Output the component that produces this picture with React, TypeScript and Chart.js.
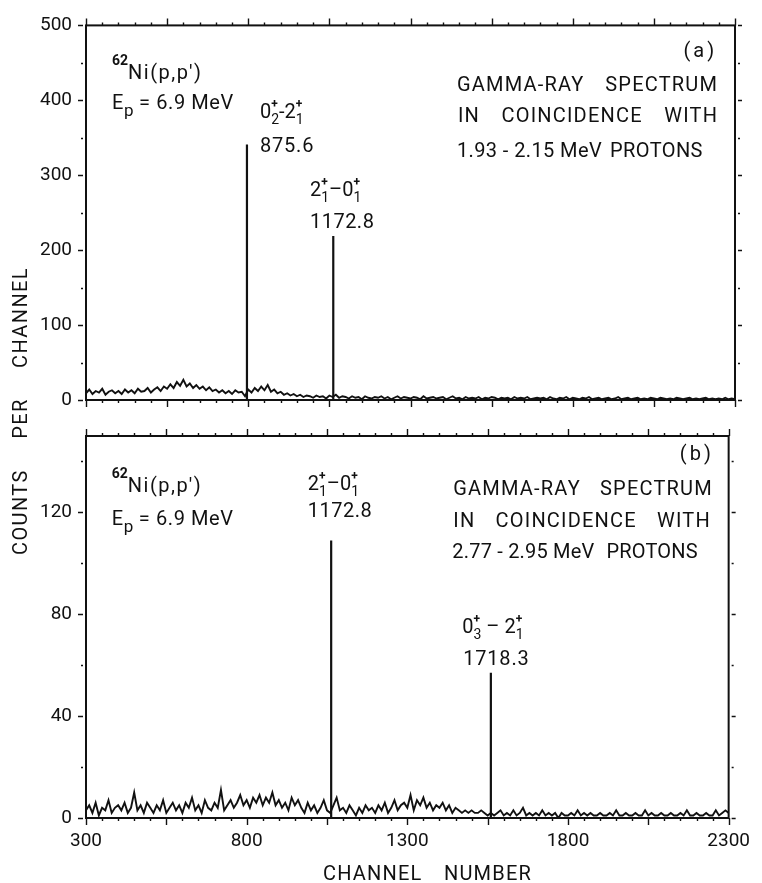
import React, { useEffect, useRef } from "react";
import { Chart, registerables } from "chart.js";

Chart.register(...registerables);

const FONT = "Roboto, 'Liberation Sans', sans-serif";
const INK = "#111";

// Both spectra are listed every 10th channel, starting at channel 300.
const FIRST_CHANNEL = 300;
const CHANNEL_STEP = 10;

// (a) gamma rays in coincidence with 1.93–2.15 MeV protons
const countsA = [
  9, 14, 8, 12, 10, 15, 7, 11, 13, 9, // 300
  12, 8, 14, 10, 13, 9, 15, 11, 12, 16, // 400
  10, 14, 17, 12, 18, 15, 21, 16, 24, 19, // 500
  27, 18, 22, 16, 20, 15, 18, 13, 17, 12, // 600
  14, 10, 13, 9, 12, 8, 13, 10, 11, 5, // 700
  14, 10, 16, 12, 18, 13, 20, 11, 14, 9, // 800
  11, 7, 9, 6, 8, 5, 7, 4, 6, 5, // 900
  3, 6, 4, 5, 2, 6, 4, 7, 3, 5, // 1000
  4, 2, 5, 3, 4, 1, 5, 3, 2, 4, // 1100
  3, 5, 2, 4, 1, 3, 5, 2, 4, 3, // 1200
  2, 4, 3, 1, 5, 2, 3, 4, 2, 3, // 1300
  4, 1, 3, 5, 2, 3, 1, 4, 2, 3, // 1400
  2, 4, 1, 3, 2, 4, 3, 1, 3, 2, // 1500
  3, 1, 4, 2, 3, 2, 4, 1, 2, 3, // 1600
  2, 3, 1, 4, 2, 1, 3, 2, 4, 1, // 1700
  3, 2, 1, 3, 2, 4, 1, 2, 3, 1, // 1800
  2, 3, 1, 2, 4, 1, 2, 3, 1, 2, // 1900
  3, 1, 2, 1, 3, 2, 1, 3, 2, 1, // 2000
  2, 1, 3, 2, 1, 2, 3, 1, 2, 1, // 2100
  2, 3, 1, 2, 1, 2, 1, 3, 1, 2, // 2200
  1, // 2300
];
const peakChannelsA = [796, 1062];
const peakCountsA = [341, 219];

// (b) gamma rays in coincidence with 2.77–2.95 MeV protons
const countsB = [
  3, 5, 2, 6, 1, 4, 3, 7, 2, 4, // 300
  5, 3, 6, 2, 4, 10, 3, 5, 2, 6, // 400
  4, 2, 5, 3, 7, 2, 4, 6, 3, 5, // 500
  2, 6, 4, 8, 3, 5, 2, 7, 4, 3, // 600
  6, 4, 11, 3, 5, 7, 4, 6, 9, 5, // 700
  7, 4, 8, 6, 9, 5, 8, 6, 10, 5, // 800
  7, 4, 6, 3, 8, 5, 7, 4, 2, 6, // 900
  3, 5, 2, 4, 7, 3, 2, 5, 8, 3, // 1000
  4, 2, 5, 3, 1, 4, 2, 5, 3, 4, // 1100
  2, 5, 3, 6, 2, 4, 7, 3, 5, 6, // 1200
  4, 9, 3, 7, 5, 8, 4, 6, 3, 5, // 1300
  4, 6, 3, 5, 2, 4, 3, 2, 3, 2, // 1400
  3, 2, 2, 3, 2, 1, 2, 1, 2, 3, // 1500
  1, 2, 1, 3, 1, 2, 4, 1, 2, 1, // 1600
  2, 1, 3, 1, 2, 1, 2, 0, 2, 1, // 1700
  1, 2, 1, 3, 1, 2, 1, 2, 1, 1, // 1800
  2, 1, 1, 2, 1, 3, 1, 1, 2, 1, // 1900
  1, 2, 1, 1, 3, 1, 2, 1, 1, 2, // 2000
  1, 1, 2, 1, 1, 2, 1, 3, 1, 1, // 2100
  2, 1, 1, 2, 1, 1, 3, 1, 2, 3, // 2200
  2, // 2300
];
const peakChannelsB = [1063, 1560];
const peakCountsB = [109, 57];

const xRange = [300, 2300];
const xTickValues = [300, 800, 1300, 1800, 2300];
const yTickValuesA = [0, 100, 200, 300, 400, 500];
const yTickValuesB = [0, 40, 80, 120];

// ---- text helpers -------------------------------------------------------

type Seg = { t: string; s?: number; dy?: number; bold?: boolean; stack?: boolean };

const NUCLIDE: Seg[] = [
  { t: "62", s: 0.68, dy: -0.7, bold: true },
  { t: "Ni(p,p′)" },
];
const BEAM: Seg[] = [{ t: "E" }, { t: "p", s: 0.85, dy: 0.32 }, { t: " = 6.9 MeV" }];
const sup = (t: string): Seg => ({ t, s: 0.6, dy: -0.5, bold: true, stack: true });
const sub = (t: string): Seg => ({ t, s: 0.7, dy: 0.3 });
const TRANS_02_21: Seg[] = [{ t: "0" }, sup("+"), sub("2"), { t: "-" }, { t: "2" }, sup("+"), sub("1")];
const TRANS_21_01: Seg[] = [{ t: "2" }, sup("+"), sub("1"), { t: "–" }, { t: "0" }, sup("+"), sub("1")];
const TRANS_03_21: Seg[] = [{ t: "0" }, sup("+"), sub("3"), { t: " – " }, { t: "2" }, sup("+"), sub("1")];

type Note =
  | { kind: "rich"; x: number; y: number; segs: Seg[]; size?: number; ls?: number }
  | { kind: "justify"; x: number; x2: number; y: number; text: string; size?: number; ls?: number }
  | { kind: "right"; x: number; y: number; text: string; size?: number; ls?: number };

function drawRich(ctx: CanvasRenderingContext2D, segs: Seg[], x: number, y: number, size: number, ls: number) {
  let cx = x;
  let stackW = 0;
  for (const sg of segs) {
    const fs = Math.round(size * (sg.s ?? 1));
    ctx.font = `${sg.bold ? "bold " : ""}${fs}px ${FONT}`;
    (ctx as any).letterSpacing = `${sg.s ? 0 : ls}px`;
    ctx.fillText(sg.t, cx, y + size * (sg.dy ?? 0));
    const w = ctx.measureText(sg.t).width;
    if (sg.stack) {
      stackW = w;
    } else {
      cx += Math.max(w, stackW);
      stackW = 0;
    }
  }
}

function drawJustified(ctx: CanvasRenderingContext2D, text: string, x1: number, x2: number, y: number, size: number, ls: number) {
  ctx.font = `${size}px ${FONT}`;
  (ctx as any).letterSpacing = `${ls}px`;
  const groups = text.split("|");
  const widths = groups.map((g) => ctx.measureText(g).width);
  const total = widths.reduce((a, b) => a + b, 0);
  const gap = groups.length > 1 ? (x2 - x1 - total) / (groups.length - 1) : 0;
  let cx = x1;
  groups.forEach((g, i) => {
    ctx.fillText(g, cx, y);
    cx += widths[i] + gap;
  });
}

// ---- panels -------------------------------------------------------------

type Panel = {
  counts: number[];
  peakChannels: number[];
  peakCounts: number[];
  yMax: number;
  yTicks: number[];
  yMinor: number;
  areaTop: number;
  areaBottom: number;
  xLabels: boolean;
  titles: boolean;
  notes: Note[];
};

const panelA: Panel = {
  counts: countsA,
  peakChannels: peakChannelsA,
  peakCounts: peakCountsA,
  yMax: 500,
  yTicks: yTickValuesA,
  yMinor: 50,
  areaTop: 19,
  areaBottom: 400,
  xLabels: false,
  titles: false,
  notes: [
    { kind: "rich", x: 380, y: 429, segs: NUCLIDE, ls: 1.5 },
    { kind: "rich", x: 380, y: 388, segs: BEAM, ls: 0.6 },
    { kind: "rich", x: 836, y: 377, segs: TRANS_02_21, ls: 0 },
    { kind: "rich", x: 836, y: 331, segs: [{ t: "875.6" }], ls: 0.8 },
    { kind: "rich", x: 990, y: 272, segs: TRANS_21_01, ls: 0 },
    { kind: "rich", x: 990, y: 230, segs: [{ t: "1172.8" }], ls: 0.5 },
    { kind: "right", x: 2245, y: 458, text: "(a)", ls: 3 },
    { kind: "justify", x: 1443, x2: 2248, y: 413, text: "GAMMA-RAY|SPECTRUM", ls: 1.2 },
    { kind: "justify", x: 1446, x2: 2248, y: 371, text: "IN|COINCIDENCE|WITH", ls: 1.2 },
    { kind: "justify", x: 1443, x2: 2201, y: 324, text: "1.93 - 2.15 MeV|PROTONS", ls: 0.4 },
  ],
};

const panelB: Panel = {
  counts: countsB,
  peakChannels: peakChannelsB,
  peakCounts: peakCountsB,
  yMax: 150,
  yTicks: yTickValuesB,
  yMinor: 20,
  areaTop: 436,
  areaBottom: 818,
  xLabels: true,
  titles: true,
  notes: [
    { kind: "rich", x: 380, y: 128, segs: NUCLIDE, ls: 1.5 },
    { kind: "rich", x: 380, y: 115, segs: BEAM, ls: 0.6 },
    { kind: "rich", x: 990, y: 128.8, segs: TRANS_21_01, ls: 0 },
    { kind: "rich", x: 990, y: 118, segs: [{ t: "1172.8" }], ls: 0.5 },
    { kind: "right", x: 2254, y: 140.6, text: "(b)", ls: 3 },
    { kind: "justify", x: 1443, x2: 2251, y: 126.8, text: "GAMMA-RAY|SPECTRUM", ls: 1.2 },
    { kind: "justify", x: 1443, x2: 2245, y: 114.3, text: "IN|COINCIDENCE|WITH", ls: 1.2 },
    { kind: "justify", x: 1440, x2: 2204, y: 102, text: "2.77 - 2.95 MeV|PROTONS", ls: 0.2 },
    { kind: "rich", x: 1471, y: 72.6, segs: TRANS_03_21, ls: 0 },
    { kind: "rich", x: 1474, y: 60, segs: [{ t: "1718.3" }], ls: 0.8 },
  ],
};

const PAGE_W = 762;
const PAGE_H = 883;
const AREA_LEFT = 86;
const AREA_RIGHT = 735;

function framePlugin(p: Panel) {
  return {
    id: "frame",
    afterDatasetsDraw(chart: any) {
      const { ctx, chartArea: ca, scales } = chart;
      const xs = scales.x;
      const ys = scales.y;
      ctx.save();
      ctx.strokeStyle = INK;
      ctx.lineWidth = 2;
      ctx.strokeRect(ca.left, ca.top, ca.right - ca.left, ca.bottom - ca.top);
      ctx.lineWidth = 1.4;
      ctx.beginPath();
      for (let ch = xRange[0]; ch <= xRange[1]; ch += 50) {
        const px = Math.round(xs.getPixelForValue(ch)) + 0.5;
        const major = (ch - xRange[0]) % 250 === 0;
        const len = major ? 7 : 3;
        ctx.moveTo(px, ca.top);
        ctx.lineTo(px, ca.top - len);
        ctx.moveTo(px, ca.bottom);
        ctx.lineTo(px, ca.bottom + len);
      }
      for (let v = 0; v <= p.yMax; v += p.yMinor) {
        const py = Math.round(ys.getPixelForValue(v)) + 0.5;
        const major = p.yTicks.includes(v);
        if (major) {
          ctx.moveTo(ca.left - 8, py);
          ctx.lineTo(ca.left - 3, py);
          ctx.moveTo(ca.right + 3, py);
          ctx.lineTo(ca.right + 7, py);
        } else {
          ctx.moveTo(ca.left - 5, py);
          ctx.lineTo(ca.left - 3, py);
          ctx.moveTo(ca.right + 3, py);
          ctx.lineTo(ca.right + 5, py);
        }
      }
      ctx.stroke();
      ctx.restore();
    },
  };
}

function notesPlugin(p: Panel) {
  return {
    id: "notes",
    afterDraw(chart: any) {
      const { ctx, scales } = chart;
      const xs = scales.x;
      const ys = scales.y;
      ctx.save();
      ctx.fillStyle = INK;
      ctx.textBaseline = "alphabetic";
      for (const n of p.notes) {
        const size = n.size ?? 20;
        const px = xs.getPixelForValue(n.x);
        const py = ys.getPixelForValue(n.y);
        ctx.textAlign = "left";
        if (n.kind === "rich") {
          drawRich(ctx, n.segs, px, py, size, n.ls ?? 1);
        } else if (n.kind === "justify") {
          drawJustified(ctx, n.text, px, xs.getPixelForValue(n.x2), py, size, n.ls ?? 1);
        } else {
          ctx.font = `${size}px ${FONT}`;
          (ctx as any).letterSpacing = `${n.ls ?? 1}px`;
          const w = ctx.measureText(n.text).width;
          ctx.fillText(n.text, px - w, py);
        }
      }
      if (p.titles) {
        drawJustified(ctx, "CHANNEL|NUMBER", 323, 532, 880, 20, 1.2);
        ctx.translate(20, 411);
        ctx.rotate(-Math.PI / 2);
        drawJustified(ctx, "COUNTS|PER|CHANNEL", -144, 144, 7, 20, 1.4);
      }
      ctx.restore();
    },
  };
}

function buildChart(canvas: HTMLCanvasElement, p: Panel) {
  const spectrum = p.counts.map((c, i) => ({ x: FIRST_CHANNEL + i * CHANNEL_STEP, y: c }));
  const peaks = p.peakChannels.map((ch, i) => ({
    data: [
      { x: ch, y: 0 },
      { x: ch, y: p.peakCounts[i] },
    ],
    borderColor: INK,
    borderWidth: 2.2,
    pointRadius: 0,
  }));
  const tickFont = { family: FONT, size: 19 };
  return new Chart(canvas, {
    type: "line",
    data: {
      datasets: [
        { data: spectrum, borderColor: INK, borderWidth: 1.9, pointRadius: 0, tension: 0 },
        ...peaks,
      ],
    },
    options: {
      responsive: false,
      animation: false,
      devicePixelRatio: 1,
      events: [],
      layout: { padding: { left: 0, right: PAGE_W - AREA_RIGHT, top: p.areaTop, bottom: 0 } },
      plugins: { legend: { display: false }, tooltip: { enabled: false } },
      scales: {
        x: {
          type: "linear",
          min: xRange[0],
          max: xRange[1],
          grid: { display: false, drawTicks: false },
          border: { display: false },
          ticks: {
            display: p.xLabels,
            color: INK,
            font: tickFont,
            padding: 12,
            maxRotation: 0,
            autoSkip: false,
            callback: (v: any) => String(v),
          },
          afterBuildTicks: (s: any) => {
            s.ticks = xTickValues.map((v) => ({ value: v }));
          },
          afterFit: (s: any) => {
            s.height = PAGE_H - p.areaBottom;
          },
        },
        y: {
          type: "linear",
          min: 0,
          max: p.yMax,
          grid: { display: false, drawTicks: false },
          border: { display: false },
          ticks: {
            color: INK,
            font: tickFont,
            padding: 14,
            autoSkip: false,
            callback: (v: any) => String(v),
          },
          afterBuildTicks: (s: any) => {
            s.ticks = p.yTicks.map((v) => ({ value: v }));
          },
          afterFit: (s: any) => {
            s.width = AREA_LEFT;
          },
        },
      },
    } as any,
    plugins: [framePlugin(p), notesPlugin(p)],
  });
}

export default function App() {
  const refA = useRef<HTMLCanvasElement>(null);
  const refB = useRef<HTMLCanvasElement>(null);

  useEffect(() => {
    const a = buildChart(refA.current!, panelA);
    const b = buildChart(refB.current!, panelB);
    return () => {
      a.destroy();
      b.destroy();
    };
  }, []);

  const canvasStyle: React.CSSProperties = { position: "absolute", left: 0, top: 0 };
  return (
    <div
      style={{
        position: "fixed",
        left: 0,
        top: 0,
        width: PAGE_W,
        height: PAGE_H,
        background: "#fff",
      }}
    >
      <canvas ref={refA} width={PAGE_W} height={PAGE_H} style={canvasStyle} />
      <canvas ref={refB} width={PAGE_W} height={PAGE_H} style={canvasStyle} />
    </div>
  );
}
